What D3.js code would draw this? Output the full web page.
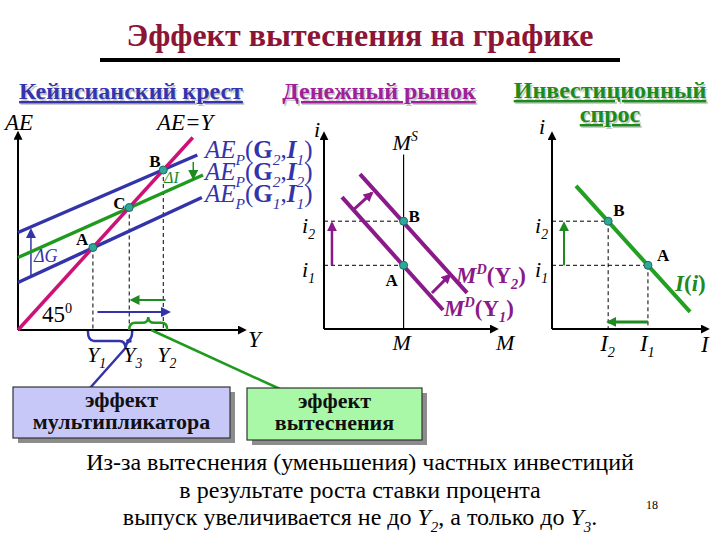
<!DOCTYPE html>
<meta charset="utf-8">
<style>
body { margin: 0; background: #fff; }
.dash { stroke: #000; stroke-width: 1px; stroke-dasharray: 4,3; fill: none; }
.axis { stroke: #000; stroke-width: 2px; fill: none; }
.pt { fill: #2fa89a; stroke: #1f6a60; stroke-width: 1px; }
.lbl { font-weight: bold; font-size: 17px; fill: #000; }
</style>
<svg width="720" height="540"></svg>
<script src="https://cdn.jsdelivr.net/npm/d3@7"></script>
<script>

// ---- Keynesian cross ----
var incomeLabels = ["1", "3", "2"];          // Y1, Y3, Y2
var incomeValues = [33, 49, 64];             // A, C, B
var crossPoints = ["A", "C", "B"];
var aeLabels = [["G","1","I","1"], ["G","2","I","2"], ["G","2","I","1"]];
var aeStart = [19, 29, 39];                  // AE at Y = 0
var aeEndY = [81, 81.5, 79];
var aeEnd = [53, 62, 70];
var aeColors = ["#3434aa", "#1f9a1f", "#3434aa"];
var line45 = [0, 77];
var deltaG = [5.7, 21, 40];                  // Y, from AE, to AE

// ---- money market ----
var rateLabels = ["1", "2"];
var rateValues = [3.25, 5.5];
var moneySupply = 4.6;
var mdY1 = [[1.04, 6.73], [6.88, 0.97]];
var mdY2 = [[2.08, 7.9], [8.27, 1.84]];
var mdShift = [[[1.73, 6.1], [2.77, 6.94]], [[6.24, 1.84], [7.28, 2.76]]];

// ---- investment demand ----
var investLine = [[1.54, 7.3], [8.85, 0.87]];
var investValues = [6.15, 3.6];              // I1, I2

var svg = d3.select("svg");
var defs = svg.append("defs");

function marker(id, color, s) {
  defs.append("marker").attr("id", id)
      .attr("viewBox", "0 0 10 10").attr("refX", 8).attr("refY", 5)
      .attr("markerWidth", s).attr("markerHeight", s)
      .attr("markerUnits", "userSpaceOnUse").attr("orient", "auto")
    .append("path").attr("d", "M0,0L10,5L0,10z").attr("fill", color);
}
marker("ablack", "#000", 9);
marker("ablue", "#3434aa", 10);
marker("agreen", "#1f8a1f", 10);
marker("apurple", "#8a1a8a", 10);

// rich text helper: parts = [{t, sub, sup, b, i}]
function rich(x, y, parts, size, color, anchor) {
  var t = svg.append("text").attr("x", x).attr("y", y)
      .attr("font-size", size).attr("fill", color)
      .attr("text-anchor", anchor || "start");
  var cur = 0;
  parts.forEach(function(p) {
    var off = p.sub ? size * 0.28 : p.sup ? -size * 0.4 : 0;
    var s = t.append("tspan").text(p.t).attr("dy", off - cur);
    cur = off;
    if (p.sub || p.sup) s.attr("font-size", size * 0.62);
    if (p.b) s.attr("font-weight", "bold");
    if (p.i) s.attr("font-style", "italic");
  });
  return t;
}

function title(x, y, txt, color, size) {
  svg.append("text").attr("x", x + 1.5).attr("y", y + 1.5).attr("text-anchor", "middle")
      .attr("font-size", size).attr("font-weight", "bold").attr("fill", "#c8c8c8")
      .style("text-decoration", "underline").text(txt);
  svg.append("text").attr("x", x).attr("y", y).attr("text-anchor", "middle")
      .attr("font-size", size).attr("font-weight", "bold").attr("fill", color)
      .style("text-decoration", "underline").text(txt);
}

function brace(x1, x2, y, h, tip) {
  var xm = x1 + (x2 - x1) * tip, ym = y + h * 0.55, e = 6;
  return "M" + x1 + "," + y + "Q" + x1 + "," + ym + " " + (x1 + e) + "," + ym +
         "L" + (xm - e) + "," + ym + "Q" + xm + "," + ym + " " + xm + "," + (y + h) +
         "Q" + xm + "," + ym + " " + (xm + e) + "," + ym +
         "L" + (x2 - e) + "," + ym + "Q" + x2 + "," + ym + " " + x2 + "," + y;
}

// main title
svg.append("text").attr("x", 360).attr("y", 46).attr("text-anchor", "middle")
    .attr("font-size", 32).attr("font-weight", "bold").attr("fill", "#8c1535")
    .text("Эффект вытеснения на графике");
svg.append("line").attr("x1", 100).attr("x2", 620).attr("y1", 60).attr("y2", 60)
    .attr("stroke", "#000").attr("stroke-width", 4);

title(131, 99, "Кейнсианский крест", "#3434b0", 24);
title(379, 99, "Денежный рынок", "#a0209a", 24);
title(610, 98, "Инвестиционный", "#1a8c1a", 24);
title(610, 122, "спрос", "#1a8c1a", 24);

// ================= left panel =================
var xL = d3.scaleLinear().domain([0, 100]).range([18, 245]);
var yL = d3.scaleLinear().domain([0, 100]).range([330, 80]);
var lineL = d3.line().x(function(d) { return xL(d[0]); }).y(function(d) { return yL(d[1]); });

incomeValues.forEach(function(v) {
  svg.append("line").attr("class", "dash")
      .attr("x1", xL(v)).attr("x2", xL(v)).attr("y1", yL(v)).attr("y2", yL(0));
});

svg.append("path").attr("class", "axis").attr("marker-end", "url(#ablack)")
    .attr("d", lineL([[0, 0], [0, 79]]));
svg.append("path").attr("class", "axis").attr("marker-end", "url(#ablack)")
    .attr("d", lineL([[0, 0], [100, 0]]));

// delta G arrow
svg.append("path").attr("stroke", "#3434aa").attr("stroke-width", 1.5).attr("fill", "none")
    .attr("marker-end", "url(#ablue)")
    .attr("d", lineL([[deltaG[0], deltaG[1]], [deltaG[0], deltaG[2]]]));

aeStart.forEach(function(s, k) {
  svg.append("path").attr("stroke", aeColors[k]).attr("stroke-width", 3.5).attr("fill", "none")
      .attr("d", lineL([[0, s], [aeEndY[k], aeEnd[k]]]));
});
svg.append("path").attr("stroke", "#cc1177").attr("stroke-width", 3.5).attr("fill", "none")
    .attr("d", lineL([[line45[0], line45[0]], [line45[1], line45[1]]]));

incomeValues.forEach(function(v) {
  svg.append("circle").attr("class", "pt").attr("cx", xL(v)).attr("cy", yL(v)).attr("r", 4);
});

// shift arrows below
svg.append("path").attr("stroke", "#1f8a1f").attr("stroke-width", 2).attr("fill", "none")
    .attr("marker-end", "url(#agreen)")
    .attr("d", lineL([[incomeValues[2] + 1, 12], [incomeValues[1] + 1, 12]]));
svg.append("path").attr("stroke", "#3434aa").attr("stroke-width", 2).attr("fill", "none")
    .attr("marker-end", "url(#ablue)")
    .attr("d", lineL([[incomeValues[0] + 2, 7.2], [incomeValues[2] + 2.5, 7.2]]));

// braces
var bx1 = xL(incomeValues[0]) - 5, bx2 = xL(incomeValues[1]) + 3, btip = 0.85;
svg.append("path").attr("stroke", "#3434aa").attr("stroke-width", 2.5).attr("fill", "none")
    .attr("d", brace(bx1, bx2, yL(0) + 1, 18, btip));
var gx1 = xL(incomeValues[1]), gx2 = xL(incomeValues[2]) + 4;
svg.append("path").attr("stroke", "#1f9a1f").attr("stroke-width", 2.5).attr("fill", "none")
    .attr("d", brace(gx1, gx2, yL(0), -13, 0.5));

// connectors
svg.append("line").attr("stroke", "#3434aa").attr("stroke-width", 2.5)
    .attr("x1", bx1 + (bx2 - bx1) * btip).attr("y1", yL(0) + 18).attr("x2", 90).attr("y2", 388);
svg.append("line").attr("stroke", "#1f9a1f").attr("stroke-width", 2.5)
    .attr("x1", (gx1 + gx2) / 2 + 3).attr("y1", yL(0)).attr("x2", 280).attr("y2", 389);

// labels left
rich(5, 130, [{t: "AE", i: 1}], 23, "#000");
rich(157, 130, [{t: "AE=Y", i: 1}], 23, "#000");
svg.append("text").attr("class", "lbl").attr("x", xL(incomeValues[0]) - 17).attr("y", yL(incomeValues[0]) - 3).text(crossPoints[0]);
svg.append("text").attr("class", "lbl").attr("x", xL(incomeValues[1]) - 16).attr("y", yL(incomeValues[1]) + 1).text(crossPoints[1]);
svg.append("text").attr("class", "lbl").attr("x", xL(incomeValues[2]) - 14).attr("y", yL(incomeValues[2]) - 3).text(crossPoints[2]);
rich(34, 262, [{t: "Δ", i: 1}, {t: "G", i: 1}], 18, "#3434aa");
rich(164, 183, [{t: "ΔI", i: 1}], 16, "#1f8a1f");
svg.append("path").attr("stroke", "#1f8a1f").attr("stroke-width", 1.5).attr("marker-end", "url(#agreen)")
    .attr("d", "M" + (xL(incomeValues[2]) + 30) + "," + (yL(incomeValues[2]) - 8) + "v16");
rich(42, 322, [{t: "45"}, {t: "0", sup: 1}], 23, "#000");
incomeValues.forEach(function(v, k) {
  rich(xL(v) - 6, 362, [{t: "Y", i: 1}, {t: incomeLabels[k], sub: 1, i: 1}], 22, "#000");
});
rich(248, 347, [{t: "Y", i: 1}], 23, "#000");

// AE legend
aeLabels.slice().reverse().forEach(function(g, k) {
  rich(205, 158 + k * 22, [{t: "AE", i: 1}, {t: "P", sub: 1, i: 1}, {t: "("}, {t: g[0], b: 1},
      {t: g[1], sub: 1, i: 1}, {t: ","}, {t: g[2], b: 1, i: 1}, {t: g[3], sub: 1, i: 1}, {t: ")"}],
      25, "#3434aa");
});

// ================= middle panel =================
var xM = d3.scaleLinear().domain([0, 10]).range([324, 497]);
var yI = d3.scaleLinear().domain([0, 10]).range([329, 133]);
var lineM = d3.line().x(function(d) { return xM(d[0]); }).y(function(d) { return yI(d[1]); });

rateValues.forEach(function(r) {
  svg.append("line").attr("class", "dash").attr("x1", xM(0)).attr("x2", xM(moneySupply))
      .attr("y1", yI(r)).attr("y2", yI(r));
});
svg.append("path").attr("class", "axis").attr("marker-end", "url(#ablack)").attr("d", lineM([[0, 0], [0, 10]]));
svg.append("path").attr("class", "axis").attr("marker-end", "url(#ablack)").attr("d", lineM([[0, 0], [10, 0]]));
svg.append("path").attr("stroke", "#000").attr("stroke-width", 1.2)
    .attr("d", lineM([[moneySupply, 0], [moneySupply, 8.9]]));
[mdY1, mdY2].forEach(function(l) {
  svg.append("path").attr("stroke", "#8a1a8a").attr("stroke-width", 4).attr("d", lineM(l));
});
mdShift.forEach(function(a) {
  svg.append("path").attr("stroke", "#8a1a8a").attr("stroke-width", 3).attr("marker-end", "url(#apurple)")
      .attr("d", lineM(a));
});
svg.append("path").attr("stroke", "#8a1a8a").attr("stroke-width", 2.5).attr("marker-end", "url(#apurple)")
    .attr("d", lineM([[0.46, rateValues[0]], [0.46, rateValues[1] - 0.1]]));
rateValues.forEach(function(r) {
  svg.append("circle").attr("class", "pt").attr("cx", xM(moneySupply)).attr("cy", yI(r)).attr("r", 4);
});
svg.append("text").attr("class", "lbl").attr("x", xM(moneySupply) + 5).attr("y", yI(rateValues[1]) + 1).text("B");
svg.append("text").attr("class", "lbl").attr("x", xM(moneySupply) - 18).attr("y", yI(rateValues[0]) + 21).text("A");
rich(314, 137, [{t: "i", i: 1}], 22, "#000");
rateValues.forEach(function(r, k) {
  rich(302, yI(r) + 12, [{t: "i", i: 1}, {t: rateLabels[k], sub: 1, i: 1}], 22, "#000");
});
rich(xM(moneySupply) - 11, 150, [{t: "M", i: 1}, {t: "S", sup: 1, i: 1}], 22, "#000");
rich(xM(moneySupply) - 11, 350, [{t: "M", i: 1}], 22, "#000");
rich(xM(10) - 1, 350, [{t: "M", i: 1}], 22, "#000");
rich(456, 283, [{t: "M", i: 1, b: 1}, {t: "D", sup: 1, i: 1, b: 1}, {t: "(", b: 1}, {t: "Y", b: 1},
    {t: "2", sub: 1, i: 1, b: 1}, {t: ")", b: 1}], 23, "#8a1a8a");
rich(444, 316, [{t: "M", i: 1, b: 1}, {t: "D", sup: 1, i: 1, b: 1}, {t: "(", b: 1}, {t: "Y", b: 1},
    {t: "1", sub: 1, i: 1, b: 1}, {t: ")", b: 1}], 23, "#8a1a8a");

// ================= right panel =================
var xR = d3.scaleLinear().domain([0, 10]).range([552, 708]);
var lineR = d3.line().x(function(d) { return xR(d[0]); }).y(function(d) { return yI(d[1]); });

rateValues.forEach(function(r, k) {
  var iv = investValues[k];
  svg.append("line").attr("class", "dash").attr("x1", xR(0)).attr("x2", xR(iv)).attr("y1", yI(r)).attr("y2", yI(r));
  svg.append("line").attr("class", "dash").attr("x1", xR(iv)).attr("x2", xR(iv)).attr("y1", yI(r)).attr("y2", yI(0));
});
svg.append("path").attr("class", "axis").attr("marker-end", "url(#ablack)").attr("d", lineR([[0, 0], [0, 10]]));
svg.append("path").attr("class", "axis").attr("marker-end", "url(#ablack)").attr("d", lineR([[0, 0], [10, 0]]));
svg.append("path").attr("stroke", "#22a022").attr("stroke-width", 4).attr("d", lineR(investLine));
svg.append("path").attr("stroke", "#1f8a1f").attr("stroke-width", 2).attr("marker-end", "url(#agreen)")
    .attr("d", lineR([[0.77, rateValues[0]], [0.77, rateValues[1] - 0.1]]));
svg.append("path").attr("stroke", "#1f8a1f").attr("stroke-width", 3).attr("marker-end", "url(#agreen)")
    .attr("d", lineR([[investValues[0], 0.36], [investValues[1], 0.36]]));
rateValues.forEach(function(r, k) {
  svg.append("circle").attr("class", "pt").attr("cx", xR(investValues[k])).attr("cy", yI(r)).attr("r", 4);
});
svg.append("text").attr("class", "lbl").attr("x", xR(investValues[1]) + 5).attr("y", yI(rateValues[1]) - 5).text("B");
svg.append("text").attr("class", "lbl").attr("x", xR(investValues[0]) + 9).attr("y", yI(rateValues[0]) - 4).text("A");
rich(539, 134, [{t: "i", i: 1}], 22, "#000");
rateValues.forEach(function(r, k) {
  rich(535, yI(r) + 12, [{t: "i", i: 1}, {t: rateLabels[k], sub: 1, i: 1}], 22, "#000");
});
investValues.forEach(function(v, k) {
  rich(xR(v) - 8, 351, [{t: "I", i: 1}, {t: k === 0 ? "1" : "2", sub: 1, i: 1}], 23, "#000");
});
rich(701, 352, [{t: "I", i: 1}], 23, "#000");
rich(675, 291, [{t: "I", b: 1, i: 1}, {t: "(", b: 1}, {t: "i", b: 1, i: 1}, {t: ")", b: 1}], 23, "#1f8a1f");

// ================= boxes =================
function box(x, y, w, h, fill, lines) {
  svg.append("rect").attr("x", x + 5).attr("y", y + 5).attr("width", w).attr("height", h).attr("fill", "#8c8c8c");
  svg.append("rect").attr("x", x).attr("y", y).attr("width", w).attr("height", h)
      .attr("fill", fill).attr("stroke", "#333").attr("stroke-width", 1.2);
  lines.forEach(function(l, k) {
    svg.append("text").attr("x", x + w / 2).attr("y", y + 20 + k * 22).attr("text-anchor", "middle")
        .attr("font-size", 22).attr("font-weight", "bold").attr("fill", "#111").text(l);
  });
}
box(13, 387, 217, 51, "#c8c8f8", ["эффект", "мультипликатора"]);
box(247, 388, 175, 52, "#a8f8a8", ["эффект", "вытеснения"]);

// ================= bottom text =================
svg.append("text").attr("x", 360).attr("y", 470).attr("text-anchor", "middle").attr("font-size", 24)
    .text("Из-за вытеснения (уменьшения) частных инвестиций");
svg.append("text").attr("x", 360).attr("y", 498).attr("text-anchor", "middle").attr("font-size", 24)
    .text("в результате роста ставки процента");
rich(360, 525, [{t: "выпуск увеличивается не до "}, {t: "Y", i: 1}, {t: "2", sub: 1, i: 1}, {t: ", а только до "},
    {t: "Y", i: 1}, {t: "3", sub: 1, i: 1}, {t: "."}], 24, "#000", "middle");
svg.append("text").attr("x", 646).attr("y", 509).attr("font-size", 12).text("18");

svg.selectAll("text").style("font-family", "'Liberation Serif', 'Times New Roman', serif");

</script>
